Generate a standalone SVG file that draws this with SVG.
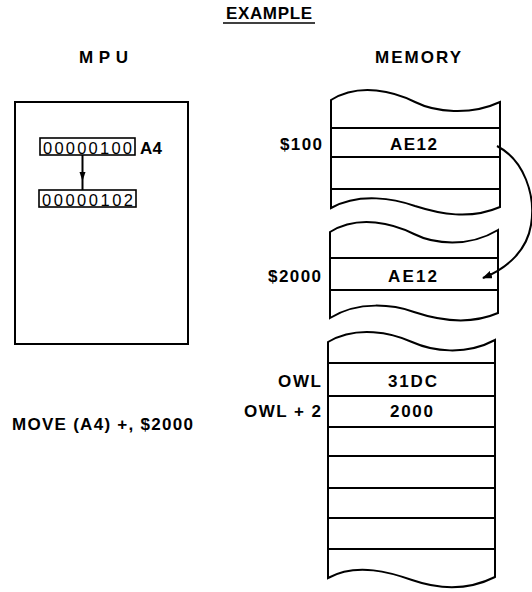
<svg xmlns="http://www.w3.org/2000/svg" width="532" height="592" viewBox="0 0 532 592">
<style>
text{font-family:"Liberation Sans",Arial,sans-serif;fill:#000}
.b{font-weight:bold;font-size:17px}
.r{font-size:16.5px}
.ln{stroke:#000;stroke-width:2;fill:none}
.st{stroke:#000;stroke-width:2;fill:#fff}
.rg{stroke:#000;stroke-width:1.6;fill:#fff}
</style>
<defs>
<marker id="ah" viewBox="0 0 10 8" refX="9" refY="4" markerWidth="10" markerHeight="8" markerUnits="userSpaceOnUse" orient="auto">
<path d="M0,0 L10,4 L0,8 Z" fill="#000"/>
</marker>
</defs>
<rect width="532" height="592" fill="#fff"/>
<g id="title">
<text class="b" x="226" y="19" textLength="86" lengthAdjust="spacing">EXAMPLE</text>
<line x1="223" y1="23" x2="315" y2="23" stroke="#000" stroke-width="1.6"/>
</g>
<g id="mpu">
<text class="b" x="79" y="63" textLength="49" lengthAdjust="spacing">MPU</text>
<rect class="st" x="15" y="102" width="173" height="242"/>
<g id="reg-a4">
<rect class="rg" x="40" y="138" width="95" height="17"/>
<text class="r" x="43" y="153.5" textLength="89" lengthAdjust="spacing">00000100</text>
<text class="b" x="140" y="153.5" textLength="22" lengthAdjust="spacing">A4</text>
</g>
<g id="reg-next">
<rect class="rg" x="39" y="190" width="97" height="17"/>
<text class="r" x="42" y="205.5" textLength="91" lengthAdjust="spacing">00000102</text>
</g>
</g>
<g id="memory">
<text class="b" x="375" y="63" textLength="86" lengthAdjust="spacing">MEMORY</text>
<g id="stack1">
<path class="st" d="M331,100 C360,82 395,92 415,102 C435,112 470,116 500,102 L500,207 C470,220 440,214 415,206 C395,199 360,192 331,208 Z"/>
<path class="ln" d="M331,128 H500 M331,157 H500 M331,189 H500"/>
<text class="b" x="280" y="149.5" textLength="42" lengthAdjust="spacing">$100</text>
<text class="b" x="390" y="149.5" textLength="47" lengthAdjust="spacing">AE12</text>
</g>
<g id="stack2">
<path class="st" d="M330,232 C359,214 394,224 414,234 C434,244 468,248 498,230 L498,313 C468,326 438,320 414,312 C394,305 359,300 330,318 Z"/>
<path class="ln" d="M330,258 H498 M330,290 H498"/>
<text class="b" x="268" y="281.5" textLength="53" lengthAdjust="spacing">$2000</text>
<text class="b" x="388" y="281.5" textLength="49" lengthAdjust="spacing">AE12</text>
</g>
<g id="stack3">
<path class="st" d="M328,342 C357,325 392,333 412,342 C432,351 465,356 495,340 L495,577 C465,592 435,588 412,580 C392,573 357,562 328,578 Z"/>
<path class="ln" d="M328,363 H495 M328,396 H495 M328,427 H495 M328,456 H495 M328,488 H495 M328,518 H495 M328,549 H495"/>
<text class="b" x="278" y="386.5" textLength="43" lengthAdjust="spacing">OWL</text>
<text class="b" x="388" y="386.5" textLength="49" lengthAdjust="spacing">31DC</text>
<text class="b" x="244" y="416.5" textLength="77" lengthAdjust="spacing">OWL + 2</text>
<text class="b" x="390" y="417" textLength="43" lengthAdjust="spacing">2000</text>
</g>
</g>
<g id="instruction">
<text class="b" x="12" y="430" textLength="181" lengthAdjust="spacing">MOVE (A4) +, $2000</text>
</g>
<g id="connectors">
<path class="ln" d="M82.5,155 V190" stroke-width="1.6"/>
<path d="M79.5,172 L85.5,172 L82.5,181 Z" fill="#000"/>
<path class="ln" stroke-width="1.6" d="M497,146 C524,160 536,195 531,225 C527,250 508,268 483,278" marker-end="url(#ah)"/>
</g>
</svg>
